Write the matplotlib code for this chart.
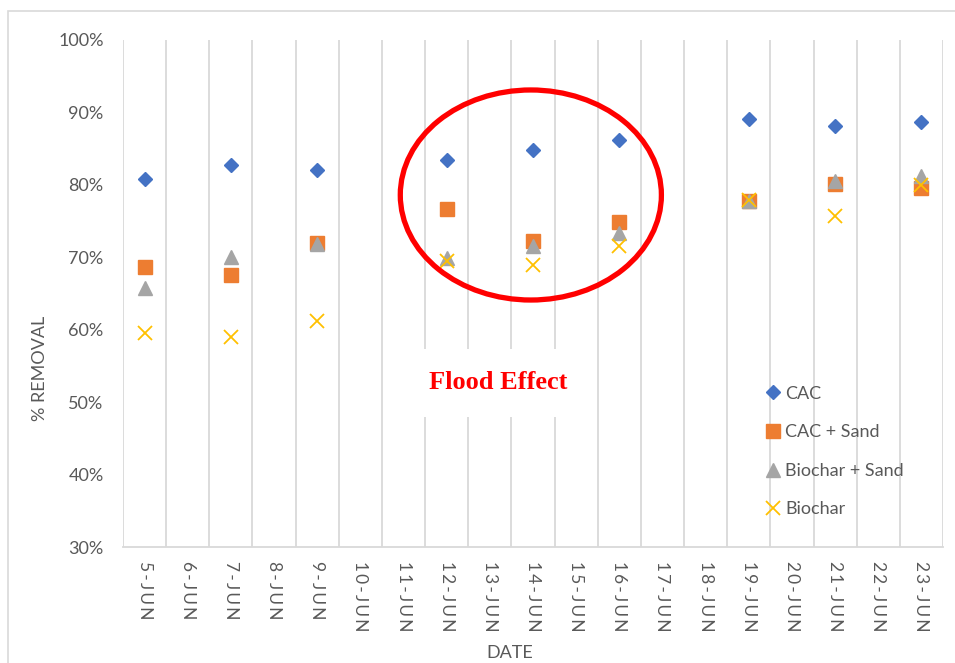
import matplotlib
matplotlib.use("Agg")
import matplotlib.pyplot as plt
from matplotlib.patches import Ellipse, Rectangle
from matplotlib.ticker import FuncFormatter, FixedLocator

# data (percent removal)
dates = ["5-JUN", "6-JUN", "7-JUN", "8-JUN", "9-JUN", "10-JUN", "11-JUN", "12-JUN",
         "13-JUN", "14-JUN", "15-JUN", "16-JUN", "17-JUN", "18-JUN", "19-JUN",
         "20-JUN", "21-JUN", "22-JUN", "23-JUN"]
sample_dates = ["5-JUN", "7-JUN", "9-JUN", "12-JUN", "14-JUN", "16-JUN", "19-JUN", "21-JUN", "23-JUN"]
cac = [80.8, 82.8, 82.0, 83.5, 84.8, 86.2, 89.1, 88.1, 88.7]
cac_sand = [68.7, 67.5, 72.0, 76.7, 72.3, 74.9, 77.8, 80.1, 79.6]
biochar_sand = [65.7, 70.1, 71.9, 69.9, 71.6, 73.4, 77.8, 80.5, 81.2]
biochar = [59.5, 59.0, 61.2, 69.5, 69.0, 71.6, 77.9, 75.7, 80.0]

GRAY = "#595959"
GRID = "#D9D9D9"
FONT = ["Lato", "DejaVu Sans"]

plt.rcParams["font.family"] = FONT

fig = plt.figure(figsize=(9.55, 6.63), dpi=100)
ax = fig.add_axes([123 / 955, 1 - 547 / 663, 820 / 955, 507 / 663])

xs = [dates.index(d) for d in sample_dates]

ax.plot(xs, cac, ls="none", marker="D", ms=7.4, color="#4472C4", label="CAC", zorder=3)
ax.plot(xs, cac_sand, ls="none", marker="s", ms=10.5, color="#ED7D31", label="CAC + Sand", zorder=3)
ax.plot(xs, biochar_sand, ls="none", marker="^", ms=10.5, color="#A5A5A5", label="Biochar + Sand", zorder=3)
ax.plot(xs, biochar, ls="none", marker="x", ms=10, mew=1.3, color="#FFC000", label="Biochar", zorder=3)

ax.set_xlim(-0.5, len(dates) - 0.5)
ax.set_ylim(30, 100)

# category ticks, gridlines between categories
ax.set_xticks(range(len(dates)))
ax.set_xticklabels(["\u2009".join(d) for d in dates], rotation=270, va="top", ha="center",
                   fontsize=12.5, color=GRAY)
ax.xaxis.set_minor_locator(FixedLocator([i - 0.5 for i in range(len(dates) + 1)]))
ax.grid(True, which="minor", axis="x", color=GRID, lw=1.3, zorder=0)
ax.tick_params(axis="x", which="both", length=0, pad=10)

ax.set_yticks(range(30, 101, 10))
ax.yaxis.set_major_formatter(FuncFormatter(lambda v, p: f"{v:.0f}%"))
ax.tick_params(axis="y", length=0, pad=14, labelsize=13, labelcolor=GRAY)

for s in ["left", "right", "top"]:
    ax.spines[s].set_visible(False)
ax.spines["bottom"].set_color(GRID)
ax.spines["bottom"].set_linewidth(1.3)

# flood annotation
ax.add_patch(Ellipse((8.95, 78.6), 6.05, 29, fill=False, ec="#FF0000", lw=3.8, zorder=4))
ax.text(8.2, 52.7, "Flood Effect", color="#FF0000", fontsize=19, fontweight="bold",
        family="Liberation Serif", ha="center", va="center", zorder=2,
        bbox=dict(boxstyle="square,pad=0.85", fc="white", ec="none"))

leg = ax.legend(loc="upper left", bbox_to_anchor=(0.782, 0.318), frameon=False,
                fontsize=13, labelcolor=GRAY, handletextpad=0.15, handlelength=1.0,
                labelspacing=1.25, borderaxespad=0, borderpad=0)

fig.text(40 / 955, 1 - 368 / 663, "% REMOVAL", rotation=90, ha="center", va="center",
         fontsize=13, color=GRAY)
fig.text(510 / 955, 1 - 653 / 663, "DATE", ha="center", va="center", fontsize=13, color=GRAY)

# chart area border
fig.patches.append(Rectangle((8 / 955, -0.05), 1.1, 1 - 11 / 663 + 0.05, transform=fig.transFigure,
                             fill=False, ec=GRID, lw=1.2))

fig.savefig("out.png", dpi=100)
